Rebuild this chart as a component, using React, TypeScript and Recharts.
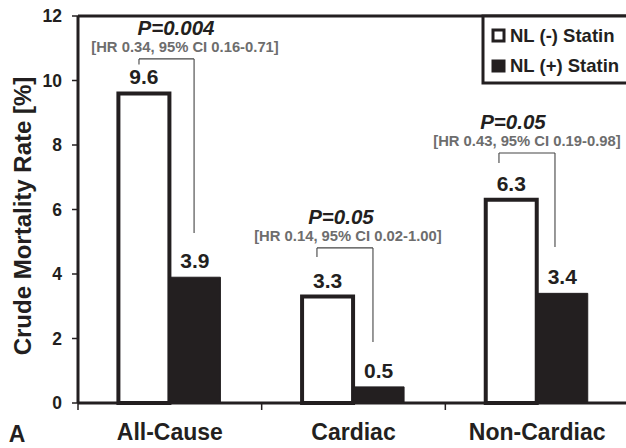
import React from "react";
import {
  BarChart,
  Bar,
  XAxis,
  YAxis,
  LabelList,
  ReferenceLine,
  ReferenceDot,
} from "recharts";

// values
const categories = ["All-Cause", "Cardiac", "Non-Cardiac"];
const noStatin = [9.6, 3.3, 6.3];
const withStatin = [3.9, 0.5, 3.4];
const yTicks = [0, 2, 4, 6, 8, 10, 12];

const pValues = ["P=0.004", "P=0.05", "P=0.05"];
const hrTexts = [
  "[HR 0.34, 95% CI 0.16-0.71]",
  "[HR 0.14, 95% CI 0.02-1.00]",
  "[HR 0.43, 95% CI 0.19-0.98]",
];
// bracket heights in % units
const bracketTop = [10.67, 4.81, 7.75];
const bracketLeftEnd = [10.5, 4.53, 7.44];
const bracketRightEnd = [5.27, 1.89, 4.84];

const data = categories.map((name, i) => ({
  name,
  pos: i + 0.5,
  noStatin: noStatin[i],
  withStatin: withStatin[i],
}));

// layout / styling
const INK = "#231f20";
const GRAY = "#6d6d6d";
const FONT = '"Liberation Sans", Arial, Helvetica, sans-serif';
const legX = [0.332, 0.301, 0.292];
const legXRight = [0.632, 0.606, 0.597];
const pDx = [9.5, -4, -14];
const hrDx = [18.5, 3, 0];

const CatTick = (props: any) => {
  const { x, y, payload } = props;
  const half = payload && payload.offset ? payload.offset : 551 / 6;
  return (
    <g>
      <line x1={x - half} x2={x - half} y1={y - 8} y2={y - 1} stroke={INK} strokeWidth={1.5} />
      <text
        x={x}
        y={y + 29}
        textAnchor="middle"
        fontSize={23}
        fontWeight={700}
        fill={INK}
      >
        {payload.value}
      </text>
    </g>
  );
};

export default function App() {
  return (
    <div
      style={{
        position: "fixed",
        left: 0,
        top: 0,
        width: 626,
        height: 448,
        overflow: "hidden",
        background: "#fff",
        fontFamily: FONT,
      }}
    >
      <BarChart
        width={630}
        height={448}
        data={data}
        margin={{ top: 16, right: 1, bottom: 0, left: 0 }}
        barCategoryGap="22%"
        barGap={0}
      >
        <XAxis
          dataKey="name"
          height={45}
          interval={0}
          axisLine={{ stroke: INK, strokeWidth: 3 }}
          tickLine={false}
          tickSize={6}
          tickMargin={2}
          tick={<CatTick />}
        />
        <XAxis
          xAxisId="num"
          dataKey="pos"
          type="number"
          domain={[0, 3]}
          allowDataOverflow
          hide
        />
        <YAxis
          width={78}
          domain={[0, 12]}
          ticks={yTicks}
          interval={0}
          axisLine={{ stroke: INK, strokeWidth: 3 }}
          tickLine={{ stroke: INK, strokeWidth: 1.5 }}
          tickSize={6}
          tickMargin={10}
          tick={{ fontSize: 17.5, fontWeight: 700, fill: INK }}
        />
        <ReferenceLine y={12} stroke={INK} strokeWidth={3} />
        <Bar
          dataKey="noStatin"
          fill="#ffffff"
          stroke={INK}
          strokeWidth={4}
          isAnimationActive={false}
        >
          <LabelList
            dataKey="noStatin"
            position="top"
            offset={9}
            fill={INK}
            fontSize={21}
            fontWeight={700}
          />
        </Bar>
        <Bar
          dataKey="withStatin"
          fill={INK}
          stroke={INK}
          strokeWidth={1}
          isAnimationActive={false}
        >
          <LabelList
            dataKey="withStatin"
            position="top"
            offset={9}
            fill={INK}
            fontSize={21}
            fontWeight={700}
          />
        </Bar>
        {categories.map((c, i) => (
          <ReferenceLine
            key={"bl" + c}
            xAxisId="num"
            segment={[
              { x: i + legX[i], y: bracketTop[i] },
              { x: i + legX[i], y: bracketLeftEnd[i] },
            ]}
            stroke="#444"
            strokeWidth={1.1}
          />
        ))}
        {categories.map((c, i) => (
          <ReferenceLine
            key={"bt" + c}
            xAxisId="num"
            segment={[
              { x: i + legX[i], y: bracketTop[i] },
              { x: i + legXRight[i], y: bracketTop[i] },
            ]}
            stroke="#444"
            strokeWidth={1.1}
          />
        ))}
        {categories.map((c, i) => (
          <ReferenceLine
            key={"br" + c}
            xAxisId="num"
            segment={[
              { x: i + legXRight[i], y: bracketTop[i] },
              { x: i + legXRight[i], y: bracketRightEnd[i] },
            ]}
            stroke="#444"
            strokeWidth={1.1}
          />
        ))}
        {categories.map((c, i) => (
          <ReferenceDot
            key={"txt" + c}
            xAxisId="num"
            x={i + (legX[i] + legXRight[i]) / 2}
            y={bracketTop[i]}
            r={0}
            fill="none"
            stroke="none"
            label={(props: any) => {
              const vb = props.viewBox || {};
              const cx = (vb.x || 0) + (vb.width || 0) / 2;
              const cy = vb.y || 0;
              return (
                <g>
                  <text
                    x={cx + pDx[i]}
                    y={cy - 24}
                    textAnchor="middle"
                    fontSize={20.5}
                    fontWeight={700}
                    fontStyle="italic"
                    fill={INK}
                  >
                    {pValues[i]}
                  </text>
                  <text
                    x={cx + hrDx[i]}
                    y={cy - 7}
                    textAnchor="middle"
                    fontSize={14.8}
                    fontWeight={700}
                    fill={GRAY}
                  >
                    {hrTexts[i]}
                  </text>
                </g>
              );
            }}
          />
        ))}
      </BarChart>
      <svg
        width={626}
        height={448}
        style={{ position: "absolute", left: 0, top: 0, pointerEvents: "none" }}
      >
        <text
          transform="translate(22,216) rotate(-90)"
          textAnchor="middle"
          dy="0.36em"
          fontSize={24}
          fontWeight={700}
          fill={INK}
        >
          Crude Mortality Rate [%]
        </text>
        <text x={17} y={442} textAnchor="middle" fontSize={23} fontWeight={700} fill={INK}>
          A
        </text>
        <rect x={483} y={16} width={150} height={67} fill="#fff" stroke={INK} strokeWidth={3} />
        <rect x={493} y={30} width={11} height={11} fill="#fff" stroke={INK} strokeWidth={3} />
        <text x={510} y={42} fontSize={18.5} fontWeight={700} fill={INK}>
          NL (-) Statin
        </text>
        <rect x={491.5} y={59.5} width={14} height={13} fill={INK} />
        <text x={510} y={72} fontSize={18.5} fontWeight={700} fill={INK}>
          NL (+) Statin
        </text>
      </svg>
    </div>
  );
}
